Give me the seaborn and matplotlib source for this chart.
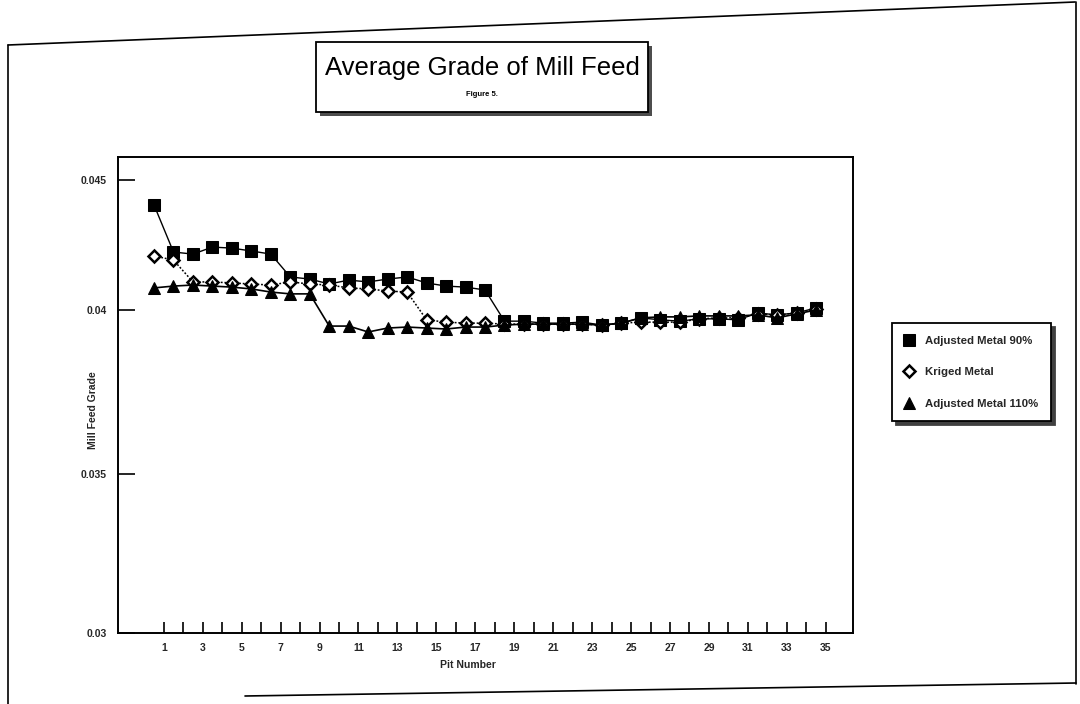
import numpy as np
import pandas as pd
import seaborn as sns
import matplotlib
matplotlib.use("Agg")
import matplotlib.pyplot as plt
from matplotlib.patches import Rectangle
from matplotlib.lines import Line2D
from matplotlib.ticker import NullLocator

# ---- data -------------------------------------------------------------
pits = list(range(1, 36))

adjusted_90 = [0.04404, 0.04223, 0.04215, 0.04242, 0.04238, 0.04227, 0.04215,
               0.04127, 0.04119, 0.04100, 0.04115, 0.04108, 0.04119, 0.04127,
               0.04104, 0.04092, 0.04088, 0.04077, 0.03966, 0.03966, 0.03960,
               0.03960, 0.03963, 0.03954, 0.03960, 0.03976, 0.03970, 0.03966,
               0.03973, 0.03973, 0.03970, 0.03991, 0.03985, 0.03991, 0.04008]

kriged = [0.04208, 0.04192, 0.04108, 0.04108, 0.04104, 0.04100, 0.04096,
          0.04108, 0.04100, 0.04096, 0.04085, 0.04081, 0.04073, 0.04069,
          0.03970, 0.03963, 0.03960, 0.03960, 0.03957, 0.03957, 0.03957,
          0.03957, 0.03957, 0.03954, 0.03960, 0.03963, 0.03963, 0.03963,
          0.03973, 0.03976, 0.03976, 0.03988, 0.03985, 0.03991, 0.04004]

adjusted_110 = [0.04085, 0.04092, 0.04096, 0.04092, 0.04088, 0.04081, 0.04069,
                0.04062, 0.04062, 0.03951, 0.03951, 0.03933, 0.03945, 0.03948,
                0.03945, 0.03942, 0.03948, 0.03948, 0.03954, 0.03957, 0.03957,
                0.03957, 0.03957, 0.03954, 0.03960, 0.03976, 0.03979, 0.03979,
                0.03982, 0.03982, 0.03982, 0.03985, 0.03976, 0.03988, 0.04000]

series_names = ["Adjusted Metal 90%", "Kriged Metal", "Adjusted Metal 110%"]

y_tick_values = [0.03, 0.035, 0.04, 0.045]
y_tick_labels = ["0.03", "0.035", "0.04", "0.045"]
x_tick_labels = [str(n) for n in range(1, 36, 2)]

# ---- figure -----------------------------------------------------------
sns.set_theme(style="white")
plt.rcParams["font.family"] = ["Liberation Sans", "DejaVu Sans"]

W, H = 1080, 704
fig = plt.figure(figsize=(W / 100, H / 100), dpi=100)
fig.patch.set_facecolor("white")


def fx(px):
    return px / W


def fy(py):
    return 1 - py / H


# plot frame in pixel terms
left, right, top, bottom = 118, 853, 157, 633
ax = fig.add_axes([fx(left), fy(bottom), fx(right - left), (bottom - top) / H])

# value axis: the printed scale is stretched unevenly between its ticks
scale_vals = [0.025, 0.03, 0.035, 0.04, 0.045, 0.05]
scale_pos = [-159, 0, 159, 323, 453, 583]


def fwd(v):
    return np.interp(v, scale_vals, scale_pos)


def inv(p):
    return np.interp(p, scale_pos, scale_vals)


ax.set_yscale("function", functions=(fwd, inv))

df = pd.DataFrame({
    "pit": pits * 3,
    "grade": adjusted_90 + kriged + adjusted_110,
    "series": sum([[n] * len(pits) for n in series_names], []),
})

styles = {
    "Adjusted Metal 90%": dict(marker="s", markersize=9, markerfacecolor="black",
                               markeredgecolor="black", linestyle="-", linewidth=1.0),
    "Kriged Metal": dict(marker="D", markersize=6.5, markerfacecolor="white",
                         markeredgecolor="black", markeredgewidth=1.8,
                         linestyle=(0, (1.2, 1.2)), linewidth=1.1),
    "Adjusted Metal 110%": dict(marker="^", markersize=9, markerfacecolor="black",
                                markeredgecolor="black", linestyle="-", linewidth=1.2),
}

for name in series_names:
    sub = df[df["series"] == name]
    sns.lineplot(data=sub, x="pit", y="grade", ax=ax, color="black",
                 estimator=None, label=name, zorder=3, **styles[name])

ax.set_xlim(-0.85, 36.9)
ax.set_ylim(0.03, float(inv(bottom - top)))

# category ticks sit between the pits, labels on the odd ones
ax.set_xticks([n + 0.5 for n in range(1, 36, 2)])
ax.set_xticklabels(x_tick_labels)
ax.set_xticks([n + 0.5 for n in range(2, 36, 2)], minor=True)
ax.set_yticks(y_tick_values)
ax.set_yticklabels(y_tick_labels)
ax.yaxis.set_minor_locator(NullLocator())

ax.tick_params(axis="x", which="both", direction="in", length=8, width=1.2,
               color="black", labelsize=7.5, pad=7, bottom=True)
ax.tick_params(axis="y", which="major", direction="in", length=12, width=1.2,
               color="black", labelsize=7.5, pad=8, left=True)
for lab in ax.get_xticklabels() + ax.get_yticklabels():
    lab.set_fontweight("bold")

for sp in ax.spines.values():
    sp.set_color("black")
    sp.set_linewidth(1.4)

ax.set_xlabel("Pit Number", fontsize=7.5, fontweight="bold")
ax.set_ylabel("Mill Feed Grade", fontsize=7.5, fontweight="bold")
ax.xaxis.set_label_coords((468 - left) / (right - left), -(660 - bottom) / (bottom - top))
ax.yaxis.set_label_coords(-(left - 98) / (right - left), (bottom - 410) / (bottom - top))

# legend: markers only, boxed with a drop shadow
leg = ax.legend(loc="upper left", bbox_to_anchor=(fx(892), fy(323)),
                bbox_transform=fig.transFigure, frameon=True, fancybox=False,
                shadow={"ox": 3, "oy": -3, "color": "0.25", "alpha": 1},
                fontsize=8.2, handlelength=0.8, handletextpad=1.0,
                labelspacing=1.9, borderpad=1.1, borderaxespad=0)
leg.get_frame().set_edgecolor("black")
leg.get_frame().set_linewidth(1.3)
for h in leg.legend_handles:
    h.set_linestyle("none")
for t in leg.get_texts():
    t.set_fontweight("bold")

# title box with shadow
tb_l, tb_t, tb_r, tb_b = 316, 42, 648, 112
fig.add_artist(Rectangle((fx(tb_l + 4), fy(tb_b + 4)), fx(tb_r - tb_l), (tb_b - tb_t) / H,
                         transform=fig.transFigure, facecolor="0.3", edgecolor="none"))
fig.add_artist(Rectangle((fx(tb_l), fy(tb_b)), fx(tb_r - tb_l), (tb_b - tb_t) / H,
                         transform=fig.transFigure, facecolor="white",
                         edgecolor="black", linewidth=1.3))
fig.text(fx((tb_l + tb_r) / 2), fy(68), "Average Grade of Mill Feed",
         ha="center", va="center", fontsize=18.5, color="black")
fig.text(fx((tb_l + tb_r) / 2), fy(95), "Figure 5.", ha="center", va="center",
         fontsize=5.5, fontweight="bold", color="black")

# page border
border_kw = dict(transform=fig.transFigure, color="black", linewidth=1.2)
fig.add_artist(Line2D([fx(8), fx(1075)], [fy(45), fy(2)], **border_kw))
fig.add_artist(Line2D([fx(8), fx(8)], [fy(45), fy(704)], **border_kw))
fig.add_artist(Line2D([fx(1076), fx(1076)], [fy(2), fy(684)], **border_kw))
fig.add_artist(Line2D([fx(245), fx(1076)], [fy(696), fy(683)], **border_kw))

fig.savefig("out.png", dpi=100, facecolor="white")
